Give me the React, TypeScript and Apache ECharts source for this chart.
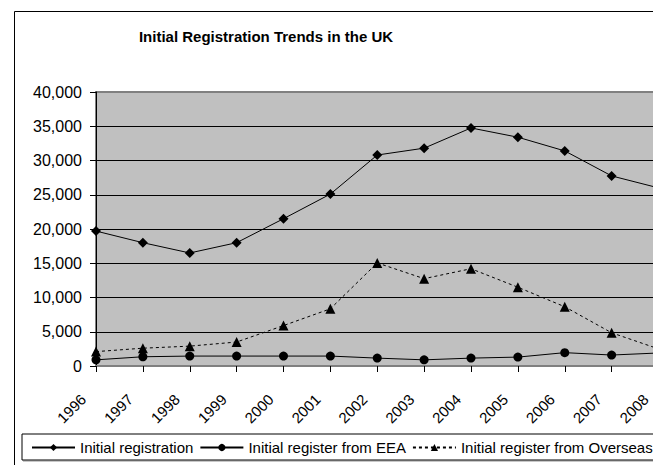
import React, { useEffect, useRef } from "react";
import * as echarts from "echarts";

const years = ["1996","1997","1998","1999","2000","2001","2002","2003","2004","2005","2006","2007","2008"];
const initialRegistration = [19700, 18000, 16500, 18000, 21500, 25100, 30800, 31800, 34750, 33400, 31400, 27750, 26000];
const fromEEA = [900, 1350, 1450, 1450, 1450, 1450, 1150, 900, 1150, 1300, 1950, 1600, 1900];
const fromOverseas = [2100, 2600, 2900, 3500, 5900, 8350, 15050, 12750, 14200, 11500, 8650, 4850, 2500];
const seriesNames = ["Initial registration", "Initial register from EEA", "Initial register from Overseas"];

const FONT = "'Liberation Sans', Arial, sans-serif";

export default function App() {
  const ref = useRef<HTMLDivElement>(null);
  useEffect(() => {
    if (!ref.current) return;
    const chart = echarts.init(ref.current, undefined, { renderer: "svg" });
    chart.setOption({
      animation: false,
      backgroundColor: "#ffffff",
      title: {
        text: "Initial Registration Trends in the UK",
        left: 266,
        top: 29,
        textAlign: "center",
        padding: 0,
        textStyle: { fontFamily: FONT, fontSize: 15, fontWeight: "bold", color: "#000" },
      },
      graphic: [
        {
          type: "rect",
          shape: { x: 14.5, y: 11.5, width: 900, height: 900 },
          style: { fill: "none", stroke: "#000", lineWidth: 1 },
          silent: true,
          z: -10,
        },
      ],
      legend: {
        left: 22,
        top: 434,
        orient: "horizontal",
        backgroundColor: "#fff",
        borderColor: "#000",
        borderWidth: 1,
        shadowColor: "#909090",
        shadowOffsetX: 1,
        shadowOffsetY: 1,
        shadowBlur: 0,
        padding: [6, 9, 5, 9],
        itemWidth: 43,
        itemHeight: 9,
        itemGap: 6,
        textStyle: { fontFamily: FONT, fontSize: 15, color: "#000" },
        data: seriesNames,
      },
      grid: {
        left: 96,
        right: 41.5,
        top: 92,
        bottom: 114,
        show: true,
        backgroundColor: "#c0c0c0",
        borderColor: "#808080",
        borderWidth: 2,
      },
      xAxis: {
        type: "category",
        data: years,
        boundaryGap: false,
        axisLine: { show: true, lineStyle: { color: "#808080", width: 2 } },
        axisTick: { show: true, length: 6, lineStyle: { color: "#000" } },
        axisLabel: {
          rotate: 45,
          margin: 18,
          interval: 0,
          padding: [0, 18, 0, 0],
          fontFamily: FONT,
          fontSize: 15,
          color: "#000",
        },
        splitLine: { show: false },
      },
      yAxis: {
        type: "value",
        min: 0,
        max: 40000,
        interval: 5000,
        axisLine: { show: true, lineStyle: { color: "#000", width: 1 } },
        axisTick: { show: true, length: 6, lineStyle: { color: "#000" } },
        axisLabel: {
          margin: 14,
          fontFamily: FONT,
          fontSize: 16,
          color: "#000",
          formatter: (v: number) => v.toLocaleString("en-US"),
        },
        splitLine: {
          show: true,
          lineStyle: {
            color: ["#000", "#000", "#000", "#000", "#000", "#000", "#000", "#000", "#808080"],
            width: 1,
          },
        },
      },
      series: [
        {
          name: seriesNames[0],
          type: "line",
          data: initialRegistration,
          symbol: "diamond",
          symbolSize: 10,
          itemStyle: { color: "#000" },
          lineStyle: { color: "#000", width: 1 },
        },
        {
          name: seriesNames[1],
          type: "line",
          data: fromEEA,
          symbol: "circle",
          symbolSize: 9,
          itemStyle: { color: "#000" },
          lineStyle: { color: "#000", width: 1 },
        },
        {
          name: seriesNames[2],
          type: "line",
          data: fromOverseas,
          symbol: "triangle",
          symbolSize: 10,
          itemStyle: { color: "#000" },
          lineStyle: { color: "#000", width: 1, type: [3, 3] },
        },
      ],
    });
    return () => chart.dispose();
  }, []);
  return (
    <div style={{ position: "fixed", left: 0, top: 0, width: 653, height: 465, overflow: "hidden", background: "#fff" }}>
      <div ref={ref} style={{ width: 700, height: 480 }} />
    </div>
  );
}
